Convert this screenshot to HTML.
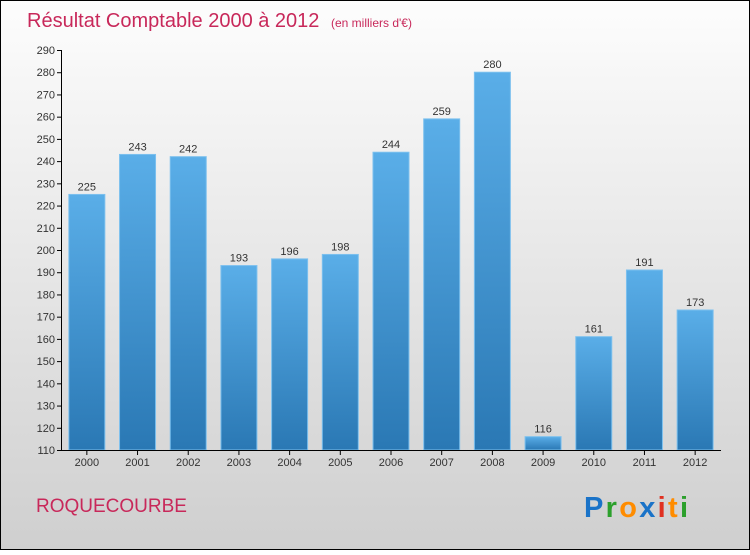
<!DOCTYPE html>
<html><head><meta charset="utf-8"><style>
body{margin:0;width:750px;height:550px;overflow:hidden;font-family:"Liberation Sans",sans-serif}
</style></head><body>
<svg width="750" height="550" xmlns="http://www.w3.org/2000/svg">
<defs>
<linearGradient id="bg" x1="0" y1="0" x2="0" y2="1"><stop offset="0" stop-color="#fdfdfd"/><stop offset="1" stop-color="#cfcfcf"/></linearGradient>
<linearGradient id="bar" x1="0" y1="0" x2="0" y2="1"><stop offset="0" stop-color="#5aaee8"/><stop offset="1" stop-color="#2a78b4"/></linearGradient>
</defs>
<rect x="0.5" y="0.5" width="749" height="549" fill="url(#bg)" stroke="#000"/>
<text x="27" y="27" font-size="20" fill="#c8285a">Résultat Comptable 2000 à 2012 <tspan font-size="12" dx="6">(en milliers d'€)</tspan></text>
<g id="yaxis"></g>
<g id="bars"></g>
<g id="xaxis"></g>
<text x="36" y="512" font-size="19" fill="#c8285a">ROQUECOURBE</text>
<g font-size="29" font-weight="bold" font-family="Liberation Sans,sans-serif">
<text x="584" y="517" textLength="104"><tspan fill="#1a73c8">P</tspan><tspan fill="#2ca02c">r</tspan><tspan fill="#ff8c00">o</tspan><tspan fill="#1a73c8">x</tspan><tspan fill="#e03020">i</tspan><tspan fill="#ff8c00">t</tspan><tspan fill="#2ca02c">i</tspan></text>
</g>
</svg>
<script>
const years=["2000","2001","2002","2003","2004","2005","2006","2007","2008","2009","2010","2011","2012"];
const values=[225,243,242,193,196,198,244,259,280,116,161,191,173];
const yTicks=[110,120,130,140,150,160,170,180,190,200,210,220,230,240,250,260,270,280,290];
const NS="http://www.w3.org/2000/svg";
const x0=62,x1=721,yTop=50,yBot=450,vMin=110,vMax=290;
const y=v=>yBot-(v-vMin)/(vMax-vMin)*(yBot-yTop);
const step=(x1-x0)/years.length;
const xc=i=>x0+step*(i+0.5)-0.5;
function mk(tag,attrs,parent){const e=document.createElementNS(NS,tag);for(const k in attrs)e.setAttribute(k,attrs[k]);parent.appendChild(e);return e;}
const ya=document.getElementById('yaxis'),xa=document.getElementById('xaxis'),bg=document.getElementById('bars');
mk('line',{x1:61.5,y1:yTop,x2:61.5,y2:yBot,stroke:'#000'},ya);
yTicks.forEach(v=>{
 mk('line',{x1:57,y1:y(v)+.5,x2:62,y2:y(v)+.5,stroke:'#000'},ya);
 const t=mk('text',{x:55,y:y(v)+4,'font-size':11,'text-anchor':'end',fill:'#333'},ya);t.textContent=v;
 
 
});
mk('line',{x1:61,y1:yBot+.5,x2:x1,y2:yBot+.5,stroke:'#000'},xa);
years.forEach((yr,i)=>{
 const cx=xc(i),bw=36;
 const r=mk('rect',{x:cx-bw/2,y:y(values[i]),width:bw,height:yBot-y(values[i]),fill:'url(#bar)',stroke:'#7cc0ee','stroke-width':1},bg);
 
 
 const l=mk('text',{x:cx,y:y(values[i])-4,'font-size':11,'text-anchor':'middle',fill:'#333'},bg);l.textContent=values[i];
 
 
 mk('line',{x1:cx,y1:yBot,x2:cx,y2:yBot+5,stroke:'#000'},xa);
 const t=mk('text',{x:cx,y:466,'font-size':11,'text-anchor':'middle',fill:'#333'},xa);t.textContent=yr;
 
 
});
</script>
</body></html>
